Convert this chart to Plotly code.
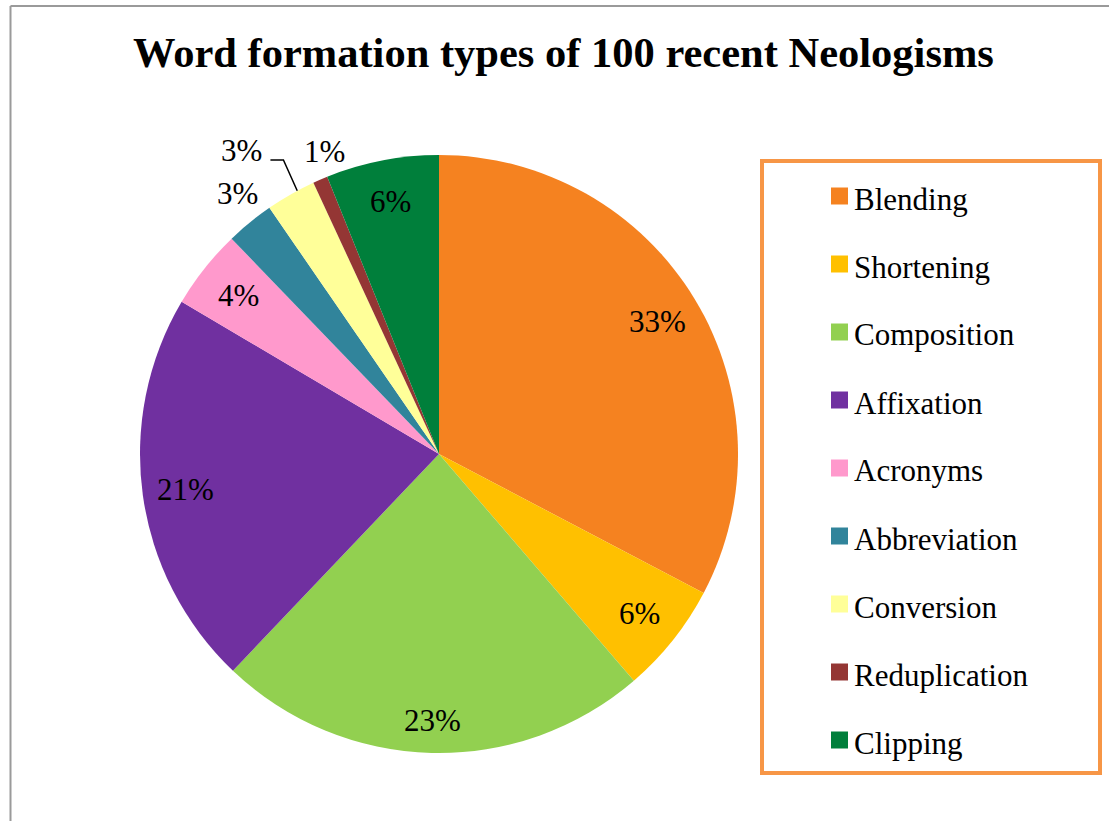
import math
import plotly.graph_objects as go

# ---------------- data ----------------
categories = ["Blending", "Shortening", "Composition", "Affixation", "Acronyms",
              "Abbreviation", "Conversion", "Reduplication", "Clipping"]
values = [32.7, 6.0, 23.4, 21.4, 4.3, 2.6, 2.7, 0.8, 6.1]
colors = ["#F58220", "#FFC000", "#92D050", "#7030A0", "#FF99CC",
          "#31849B", "#FFFF99", "#943634", "#007F3B"]
title_text = "Word formation types of 100 recent Neologisms"

# ---------------- layout constants (pixels) ----------------
W, H = 1109, 821
CX, CY, R = 439, 454, 299
FONT = "Liberation Serif"

def px(x):
    return x / W

def py(y):
    return 1 - y / H

fig = go.Figure()
fig.add_trace(go.Pie(
    labels=categories, values=values, sort=False, direction="clockwise",
    rotation=0, marker=dict(colors=colors, line=dict(width=0)),
    textinfo="none", hoverinfo="label+percent", showlegend=False,
    domain=dict(x=[px(CX - R), px(CX + R)], y=[py(CY + R), py(CY - R)]),
))

# label placement style: (radius factor, angle nudge in degrees) for small slices
label_style = {
    "Abbreviation": (1.10, 1.5),
    "Conversion": (1.21, -3.4),
    "Reduplication": (1.08, 2.7),
    "Composition": (0.89, 0.0),
    "Clipping": (0.86, 0.0),
}
annotations = []
shapes = []
total = sum(values)
cum = 0
for cat, v in zip(categories, values):
    mid = (cum + v / 2) / total * 2 * math.pi
    cum += v
    rf, nudge = label_style.get(cat, (0.855, 0.0))
    a = mid + math.radians(nudge)
    lx = CX + rf * R * math.sin(a)
    ly = CY - rf * R * math.cos(a)
    pct = round(v / total * 100)
    annotations.append(dict(
        x=px(lx), y=py(ly), xref="paper", yref="paper", text=f"{pct}%",
        showarrow=False, xanchor="center", yanchor="middle",
        font=dict(family=FONT, size=31, color="black")))
    if cat == "Conversion":
        ex = CX + R * math.sin(mid + math.radians(1.4))
        ey = CY - R * math.cos(mid + math.radians(1.4))
        path = (f"M {px(lx + 29)} {py(ly + 9)} L {px(lx + 42)} {py(ly + 9)} "
                f"L {px(ex)} {py(ey)}")
        shapes.append(dict(type="path", xref="paper", yref="paper", path=path,
                           line=dict(color="black", width=1.5)))

# title
annotations.append(dict(
    x=px(563), y=py(52), xref="paper", yref="paper", text=f"<b>{title_text}</b>",
    showarrow=False, xanchor="center", yanchor="middle",
    font=dict(family=FONT, size=42.5, color="black")))

# outer chart border (left and top visible)
shapes.append(dict(type="line", xref="paper", yref="paper",
                   x0=px(10.5), x1=px(W + 5), y0=py(6), y1=py(6),
                   line=dict(color="#9A9A9A", width=2)))
shapes.append(dict(type="line", xref="paper", yref="paper",
                   x0=px(10.5), x1=px(10.5), y0=py(6), y1=py(H + 5),
                   line=dict(color="#9A9A9A", width=2)))

# legend box
shapes.append(dict(type="rect", xref="paper", yref="paper",
                   x0=px(762), x1=px(1100), y0=py(773), y1=py(161),
                   line=dict(color="#F79646", width=4), fillcolor="white",
                   layer="below"))
LEG_Y0, LEG_STEP = 196, 68
for i, (cat, col) in enumerate(zip(categories, colors)):
    yc = LEG_Y0 + i * LEG_STEP
    shapes.append(dict(type="rect", xref="paper", yref="paper",
                       x0=px(831), x1=px(848), y0=py(yc + 8.5), y1=py(yc - 8.5),
                       line=dict(width=0), fillcolor=col))
    annotations.append(dict(
        x=px(852), y=py(yc + 3), xref="paper", yref="paper", text=cat,
        showarrow=False, xanchor="left", yanchor="middle",
        font=dict(family=FONT, size=31, color="black")))

fig.update_layout(
    width=W, height=H, margin=dict(l=0, r=0, t=0, b=0),
    paper_bgcolor="white", plot_bgcolor="white",
    font=dict(family=FONT),
    annotations=annotations, shapes=shapes,
)
fig.write_html("out.html")
